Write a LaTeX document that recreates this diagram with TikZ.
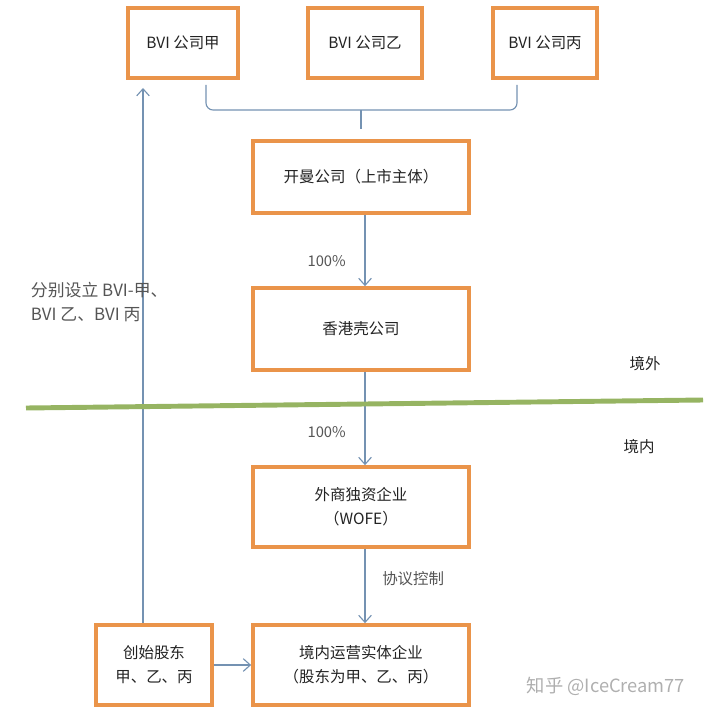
\documentclass[tikz,border=0pt]{standalone}
\usepackage{fontspec}
\setmainfont{Noto Sans CJK SC}
\usetikzlibrary{arrows.meta}
\definecolor{boxorange}{RGB}{234,148,74}
\definecolor{linkblue}{RGB}{116,146,178}
\definecolor{textgray}{RGB}{35,35,35}
\definecolor{notegray}{RGB}{85,85,85}
\definecolor{bordergreen}{RGB}{150,180,98}
\definecolor{markgray}{RGB}{175,175,175}
\begin{document}
\begin{tikzpicture}[x=0.025cm, y=-0.025cm, >={Straight Barb[length=5pt,width=9pt]}]
				\tikzstyle{corp}=[draw=boxorange, line width=2.6pt, fill=white, text=textgray, font=\fontsize{11}{17}\selectfont, align=center, inner sep=0pt]
				\tikzstyle{flow}=[draw=linkblue, line width=0.8pt, ->]
				\tikzstyle{note}=[text=notegray, font=\fontsize{11}{17}\selectfont]
				\useasboundingbox (0,0) rectangle (720,715);
				\draw 
				node[corp, minimum width=2.75cm, minimum height=1.75cm](BA)at(183,43){BVI 公司甲}
				node[corp, minimum width=2.85cm, minimum height=1.75cm](BB)at(365,43){BVI 公司乙}
				node[corp, minimum width=2.6cm, minimum height=1.75cm](BC)at(545,43){BVI 公司丙}
				node[corp, minimum width=5.4cm, minimum height=1.8cm](K)at(361,177){开曼公司（上市主体）}
				node[corp, minimum width=5.4cm, minimum height=2.05cm](H)at(361,329){香港壳公司}
				node[corp, minimum width=5.4cm, minimum height=2cm](W)at(361,507){外商独资企业\\（WOFE）}
				node[corp, minimum width=5.4cm, minimum height=2cm](D)at(361,665){境内运营实体企业\\（股东为甲、乙、丙）}
				node[corp, minimum width=2.9cm, minimum height=2cm](F)at(154,665){创始股东\\甲、乙、丙};
				
				% brace under the three BVI companies
				\coordinate (braceL) at (206,85);
				\coordinate (braceR) at (517,85);
				\coordinate (braceM) at (361,110);
				\draw[linkblue, line width=0.8pt, rounded corners=5pt] (braceL)--(braceL |- braceM)--(braceR |- braceM)--(braceR);
				\draw[linkblue, line width=0.8pt] (braceM)--(361,129);
				
				\draw[flow]([xshift=0.1cm]K.south)--([xshift=0.1cm]H.north) node[pos=.65, left=0.35cm, note, font=\fontsize{10.5}{12}\selectfont] {100\%};
				\draw[flow]([xshift=0.1cm]H.south)--([xshift=0.1cm]W.north) node[pos=.65, left=0.35cm, note, font=\fontsize{10.5}{12}\selectfont] {100\%};
				\draw[flow]([xshift=0.1cm]W.south)--([xshift=0.1cm]D.north) node[pos=.4, right=0.3cm, note] {协议控制};
				\draw[flow](F)--(D);
				\coordinate (tipA) at (143,88);
				\draw[flow](F.north -| tipA)--(tipA);
				\node[note, align=left, anchor=west, font=\fontsize{12}{17}\selectfont](S)at(26,302){分别设立 BVI-甲、\\BVI 乙、BVI 丙};
				
				% border between offshore and onshore
				\draw[bordergreen, line width=3.5pt](26,408)--(703,400);
				\node[note, text=textgray](Out)at(645,364){境外};
				\node[note, text=textgray](In)at(639,447){境内};
				
				\node[text=markgray, font=\fontsize{13}{15}\selectfont](Z)at(606,686){知乎 @IceCream77};
				\end{tikzpicture}
\end{document}
